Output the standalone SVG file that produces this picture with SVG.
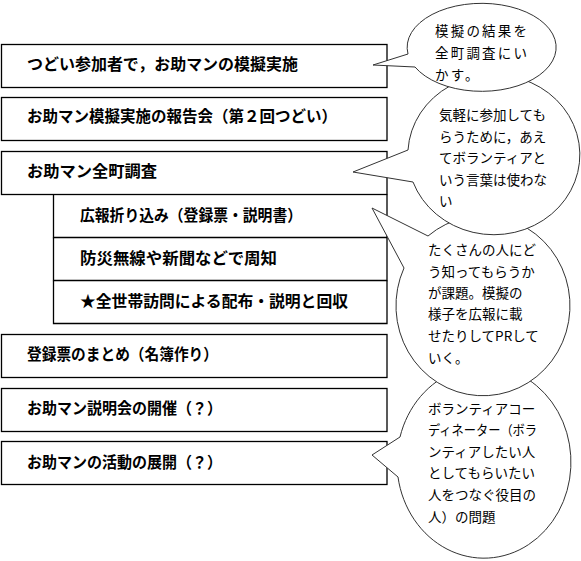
<svg xmlns="http://www.w3.org/2000/svg" width="581" height="561" viewBox="0 0 581 561">
<style>
.box{fill:#fff;stroke:#000;stroke-width:1.3}
.ln{fill:none;stroke:#000;stroke-width:1.3}
.bt{font-family:"Noto Sans CJK JP","Noto Sans CJK SC",sans-serif;font-size:16px;font-weight:bold;fill:#000}
.call{fill:#fff;stroke:#333;stroke-width:1}
.ct{font-family:"Noto Sans CJK JP","Noto Sans CJK SC",sans-serif;font-size:13.5px;fill:#000}
.e1{letter-spacing:2.2px}
</style>
<rect width="581" height="561" fill="#fff"/>
<g id="box1"><rect class="box" x="1.5" y="44.5" width="385.5" height="43"/><text class="bt" x="27" y="70" textLength="271" lengthAdjust="spacingAndGlyphs">つどい参加者で，お助マンの模擬実施</text></g>
<g id="box2"><rect class="box" x="1.5" y="97.5" width="385.5" height="43"/><text class="bt" x="27" y="122" textLength="310" lengthAdjust="spacingAndGlyphs">お助マン模擬実施の報告会（第２回つどい）</text></g>
<g id="box3"><rect class="box" x="1.5" y="151.5" width="385.5" height="43"/><text class="bt" x="27" y="177" textLength="130" lengthAdjust="spacingAndGlyphs">お助マン全町調査</text></g>
<g id="sub1"><path class="ln" d="M53.5 194.5 V237.5 H387 V194.5"/><text class="bt" x="80" y="221" textLength="222" lengthAdjust="spacingAndGlyphs">広報折り込み（登録票・説明書）</text></g>
<g id="sub2"><path class="ln" d="M53.5 237.5 V280.5 H387 V237.5"/><text class="bt" x="80" y="264" textLength="197" lengthAdjust="spacingAndGlyphs">防災無線や新聞などで周知</text></g>
<g id="sub3"><path class="ln" d="M53.5 280.5 V323.5 H387 V280.5"/><text class="bt" x="80" y="307" textLength="268" lengthAdjust="spacingAndGlyphs">★全世帯訪問による配布・説明と回収</text></g>
<g id="box4"><rect class="box" x="1.5" y="334.5" width="385.5" height="43"/><text class="bt" x="27" y="360" textLength="191" lengthAdjust="spacingAndGlyphs">登録票のまとめ（名簿作り）</text></g>
<g id="box5"><rect class="box" x="1.5" y="388.5" width="385.5" height="43"/><text class="bt" x="27" y="414" textLength="195" lengthAdjust="spacingAndGlyphs">お助マン説明会の開催（？）</text></g>
<g id="box6"><rect class="box" x="1.5" y="441.5" width="385.5" height="43"/><text class="bt" x="27" y="468" textLength="195" lengthAdjust="spacingAndGlyphs">お助マンの活動の展開（？）</text></g>
<g id="connectors"></g>
<g id="callout4"><path class="call" d="M372 455 L400 437 A87 96 0 1 1 398 477 Z"/>
<text class="ct" x="428" y="414">ボランティアコー</text>
<text class="ct" x="428" y="435" textLength="109" lengthAdjust="spacingAndGlyphs">ディネーター（ボラ</text>
<text class="ct" x="428" y="457">ンティアしたい人</text>
<text class="ct" x="428" y="478">としてもらいたい</text>
<text class="ct" x="428" y="500">人をつなぐ役目の</text>
<text class="ct" x="428" y="522">人）の問題</text></g>
<g id="callout3"><path class="call" d="M372 208 L428 236 A87 90 0 1 1 404 268 Z"/>
<text class="ct" x="428" y="255">たくさんの人にど</text>
<text class="ct" x="428" y="277">う知ってもらうか</text>
<text class="ct" x="428" y="298">が課題。模擬の</text>
<text class="ct" x="428" y="319">様子を広報に載</text>
<text class="ct" x="428" y="341">せたりしてPRして</text>
<text class="ct" x="428" y="363">いく。</text></g>
<g id="callout2"><path class="call" d="M353 172 L408 150 A86 80 0 1 1 413 182 Z"/>
<text class="ct" x="439" y="120">気軽に参加しても</text>
<text class="ct" x="439" y="142">らうために，あえ</text>
<text class="ct" x="439" y="163">てボランティアと</text>
<text class="ct" x="439" y="185">いう言葉は使わな</text>
<text class="ct" x="439" y="206">い</text></g>
<g id="callout1"><path class="call" d="M373 65 L408 54 A74.5 44 0 1 1 415 67 Z"/>
<text class="ct e1" x="435" y="36">模擬の結果を</text>
<text class="ct e1" x="435" y="58">全町調査にい</text>
<text class="ct e1" x="435" y="80">かす。</text></g>
</svg>
